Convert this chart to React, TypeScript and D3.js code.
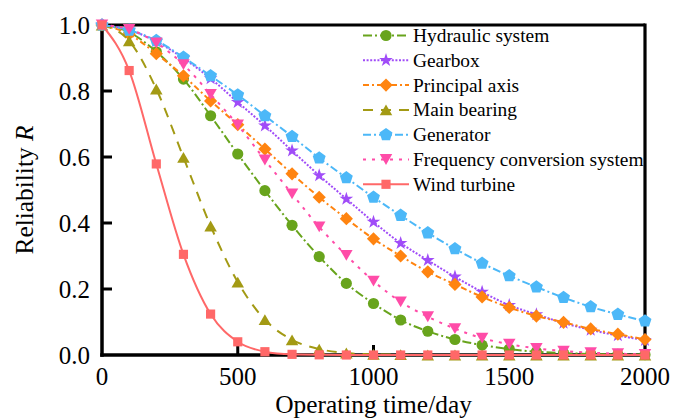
import React from 'react';
import * as d3 from 'd3';

// Operating time (days) at which each reliability value is evaluated
const days = [0, 100, 200, 300, 400, 500, 600, 700, 800, 900, 1000, 1100, 1200, 1300, 1400, 1500, 1600, 1700, 1800, 1900, 2000];

// Reliability R of each subsystem and of the whole wind turbine
const hydraulicSystem = [1.0, 0.978, 0.919, 0.836, 0.725, 0.609, 0.498, 0.393, 0.298, 0.217, 0.156, 0.106, 0.072, 0.047, 0.030, 0.018, 0.010, 0.006, 0.003, 0.002, 0.001];
const gearbox = [1.0, 0.985, 0.950, 0.899, 0.838, 0.766, 0.695, 0.619, 0.544, 0.473, 0.403, 0.339, 0.287, 0.237, 0.191, 0.151, 0.123, 0.097, 0.076, 0.059, 0.045];
const principalAxis = [1.0, 0.972, 0.913, 0.846, 0.770, 0.698, 0.624, 0.549, 0.478, 0.413, 0.352, 0.300, 0.252, 0.214, 0.176, 0.144, 0.118, 0.099, 0.079, 0.063, 0.047];
const mainBearing = [1.0, 0.952, 0.806, 0.599, 0.391, 0.221, 0.107, 0.046, 0.018, 0.006, 0.002, 0.001, 0, 0, 0, 0, 0, 0, 0, 0, 0];
const generator = [1.0, 0.984, 0.953, 0.902, 0.846, 0.788, 0.725, 0.662, 0.597, 0.537, 0.478, 0.423, 0.370, 0.322, 0.278, 0.240, 0.206, 0.174, 0.146, 0.123, 0.103];
const frequencyConversion = [1.0, 0.987, 0.946, 0.880, 0.790, 0.697, 0.591, 0.488, 0.388, 0.302, 0.224, 0.161, 0.116, 0.080, 0.051, 0.033, 0.020, 0.012, 0.007, 0.004, 0.002];
const windTurbine = [1.0, 0.862, 0.579, 0.305, 0.124, 0.040, 0.010, 0.002, 0.0005, 0, 0, 0, 0, 0, 0, 0, 0, 0, 0, 0, 0];

const seriesNames = ['Hydraulic system', 'Gearbox', 'Principal axis', 'Main bearing', 'Generator', 'Frequency conversion system', 'Wind turbine'];
const seriesValues = [hydraulicSystem, gearbox, principalAxis, mainBearing, generator, frequencyConversion, windTurbine];

const xTickValues = [0, 500, 1000, 1500, 2000];
const yTickValues = [0, 0.2, 0.4, 0.6, 0.8, 1.0];

const xTitle = 'Operating time/day';
const yTitle = 'Reliability';
const yTitleSymbol = 'R';

type Shape = 'circle' | 'star' | 'diamond' | 'triangleUp' | 'pentagon' | 'triangleDown' | 'square';

interface SeriesStyle {
  color: string;
  dash: string;
  shape: Shape;
}

const styles: SeriesStyle[] = [
  { color: '#68a41c', dash: '9 3 2 3', shape: 'circle' },
  { color: '#a04cf8', dash: '2 1.6', shape: 'star' },
  { color: '#ff8410', dash: '6 3 2 3', shape: 'diamond' },
  { color: '#a39a14', dash: '10 8', shape: 'triangleUp' },
  { color: '#4cb8f8', dash: '8 3 2 3', shape: 'pentagon' },
  { color: '#ff4ca8', dash: '3 6', shape: 'triangleDown' },
  { color: '#ff6868', dash: '', shape: 'square' },
];

const W = 675;
const H = 419;
const FONT = "'Liberation Serif', 'DejaVu Serif', 'Times New Roman', serif";

const x = d3.scaleLinear().domain([0, 2000]).range([102, 645]);
const y = d3.scaleLinear().domain([0, 1]).range([355, 25]);

function markerPath(shape: Shape): string {
  switch (shape) {
    case 'circle':
      return d3.symbol(d3.symbolCircle, 98)() as string;
    case 'square':
      return d3.symbol(d3.symbolSquare, 84)() as string;
    case 'star':
      return d3.symbol(d3.symbolStar, 58)() as string;
    case 'diamond': {
      const r = 6.6;
      return `M0,${-r}L${r},0L0,${r}L${-r},0Z`;
    }
    case 'triangleUp': {
      const s = 12.5;
      const h = s * 0.866;
      return `M0,${-h / 2}L${s / 2},${h / 2}L${-s / 2},${h / 2}Z`;
    }
    case 'triangleDown': {
      const s = 12.5;
      const h = s * 0.866;
      return `M0,${h / 2}L${s / 2},${-h / 2}L${-s / 2},${-h / 2}Z`;
    }
    case 'pentagon': {
      const r = 6.8;
      const pts = d3.range(5).map((i) => {
        const a = -Math.PI / 2 + (i * 2 * Math.PI) / 5;
        return [r * Math.cos(a), r * Math.sin(a)];
      });
      return 'M' + pts.map((p) => p.join(',')).join('L') + 'Z';
    }
  }
}

const line = d3
  .line<number>()
  .x((_, i) => x(days[i]))
  .y((d) => y(d))
  .curve(d3.curveMonotoneX);

const textStyle: React.CSSProperties = { fontFamily: FONT };

export default function App() {
  const legendX0 = 363;
  const legendX1 = 409;
  const legendTextX = 413;
  const legendY0 = 35.5;
  const legendStep = 24.8;

  return (
    <svg
      width={W}
      height={H}
      viewBox={`0 0 ${W} ${H}`}
      style={{ position: 'absolute', left: 0, top: 0, background: '#fff', fontFamily: FONT }}
    >
      <rect x={0} y={0} width={W} height={H} fill="#fff" />

      {/* plot frame */}
      <line x1={x(0)} x2={x(2000)} y1={y(1)} y2={y(1)} stroke="#000" strokeWidth={3.2} />
      <line x1={x(2000)} x2={x(2000)} y1={y(1) - 1.6} y2={y(0) + 1.6} stroke="#000" strokeWidth={3.2} />
      <line x1={x(0)} x2={x(0)} y1={y(1) - 1.6} y2={y(0) + 1.8} stroke="#000" strokeWidth={3.5} />
      <line x1={x(0) - 1.8} x2={x(2000) + 1.6} y1={y(0)} y2={y(0)} stroke="#000" strokeWidth={3.5} />

      {/* inward ticks */}
      {xTickValues.slice(1, -1).map((t) => (
        <line key={`xt${t}`} x1={x(t)} x2={x(t)} y1={y(0)} y2={y(0) - 10} stroke="#000" strokeWidth={3} />
      ))}
      {yTickValues.slice(1, -1).map((t) => (
        <line key={`yt${t}`} x1={x(0)} x2={x(0) + 10} y1={y(t)} y2={y(t)} stroke="#000" strokeWidth={3} />
      ))}

      {/* tick labels */}
      {xTickValues.map((t) => (
        <text key={`xl${t}`} x={x(t)} y={385} fontSize={25} textAnchor="middle" fill="#000" style={textStyle}>
          {t}
        </text>
      ))}
      {yTickValues.map((t) => (
        <text key={`yl${t}`} x={90} y={y(t)} dy="0.34em" fontSize={25} textAnchor="end" fill="#000" style={textStyle}>
          {d3.format('.1f')(t)}
        </text>
      ))}

      {/* axis titles */}
      <text x={(x(0) + x(2000)) / 2} y={413} fontSize={25.4} textAnchor="middle" fill="#000" style={textStyle}>
        {xTitle}
      </text>
      <text
        transform={`translate(32.5, ${(y(0) + y(1)) / 2}) rotate(-90)`}
        fontSize={25.4}
        textAnchor="middle"
        fill="#000"
        style={textStyle}
      >
        {yTitle} <tspan fontStyle="italic">{yTitleSymbol}</tspan>
      </text>

      {/* curves */}
      {seriesValues.map((vals, si) => {
        const st = styles[si];
        return (
          <g key={seriesNames[si]}>
            <path
              d={line(vals) as string}
              fill="none"
              stroke={st.color}
              strokeWidth={2}
              strokeDasharray={st.dash || undefined}
            />
            {vals.map((v, i) => (
              <path
                key={i}
                d={markerPath(st.shape)}
                transform={`translate(${x(days[i])},${y(v)})`}
                fill={st.color}
              />
            ))}
          </g>
        );
      })}

      {/* legend */}
      {seriesNames.map((name, si) => {
        const st = styles[si];
        const ly = legendY0 + si * legendStep;
        return (
          <g key={`lg${name}`}>
            <line
              x1={legendX0}
              x2={legendX1}
              y1={ly}
              y2={ly}
              stroke={st.color}
              strokeWidth={2}
              strokeDasharray={st.dash || undefined}
            />
            <path
              d={markerPath(st.shape)}
              transform={`translate(${(legendX0 + legendX1) / 2},${ly})`}
              fill={st.color}
            />
            <text x={legendTextX} y={ly} dy="0.33em" fontSize={19.4} fill="#000" style={textStyle}>
              {name}
            </text>
          </g>
        );
      })}
    </svg>
  );
}
